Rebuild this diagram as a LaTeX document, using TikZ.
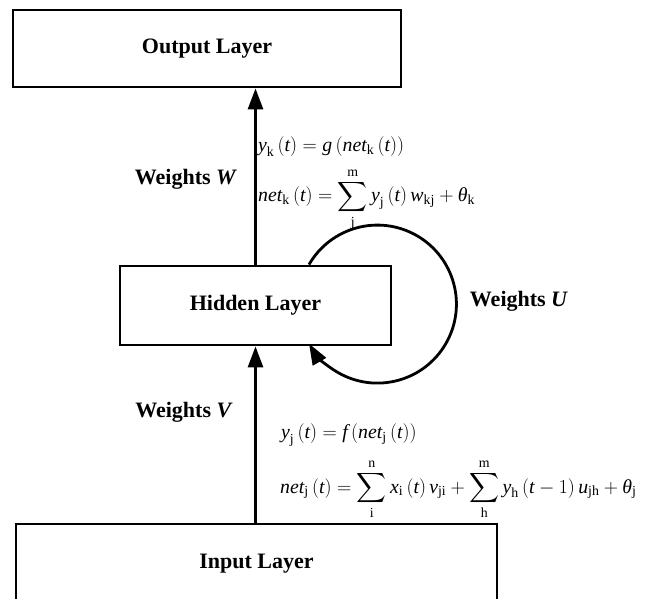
\RequirePackage{fix-cm}
\documentclass[tikz,border=0pt]{standalone}
\usepackage{amsmath}
\usepackage{fontspec}
\setmainfont{Liberation Serif}
\usetikzlibrary{arrows.meta,calc}
\newcommand{\vi}[1]{\textit{#1}}
\newcommand{\sr}[1]{\text{\upshape #1}}
\begin{document}
\begin{tikzpicture}[x=1pt,y=1pt,
  box/.style={draw,line width=2.8pt,rectangle,inner sep=0pt,font=\fontsize{22}{26}\selectfont\bfseries},
  conn/.style={line width=2.8pt,-{Triangle[length=21pt,width=15pt]}},
  lbl/.style={font=\fontsize{22}{26}\selectfont\bfseries,inner sep=0pt},
  eq/.style={font=\fontsize{19.8}{24}\selectfont,anchor=base west,inner sep=0pt}]
\useasboundingbox (0,0) rectangle (646,598);
\clip (0,0) rectangle (646,598);
\node[box,minimum width=388pt,minimum height=77pt] (output) at (207,549.5) {Output Layer};
\node[box,minimum width=271pt,minimum height=79pt] (hidden) at (255.5,292.5) {Hidden Layer};
\node[box,minimum width=481pt,minimum height=80pt] (input) at (256.5,34) {Input Layer};
\draw[conn] (hidden.north) -- (hidden.north |- output.south);
\draw[conn] (input.north -| hidden.south) -- (hidden.south);
\draw[conn] ([xshift=53.5pt]hidden.north) arc[start angle=150,end angle=-150,radius=79];
\node[lbl] (wW) at (186,419) {Weights \textit{W}};
\node[lbl] (wU) at (519,297) {Weights \textit{U}};
\node[lbl] (wV) at (184,186) {Weights \textit{V}};
\node[eq] (eqk1) at (258,446) {$\vi{y}_{\sr{k}}\,(\vi{t}) = \vi{g}\,(\vi{net}_{\sr{k}}\,(\vi{t}))$};
\node[eq] (eqk2) at (258,396) {$\displaystyle\vi{net}_{\sr{k}}\,(\vi{t}) = \sum_{\sr{j}}^{\sr{m}} \vi{y}_{\sr{j}}\,(\vi{t})\,\vi{w}_{\sr{kj}} + \vi{θ}_{\sr{k}}$};
\node[eq] (eqj1) at (281,159) {$\vi{y}_{\sr{j}}\,(\vi{t}) = \vi{f}\,(\vi{net}_{\sr{j}}\,(\vi{t}))$};
\node[eq] (eqj2) at (280,105) {$\displaystyle\vi{net}_{\sr{j}}\,(\vi{t}) = \sum_{\sr{i}}^{\sr{n}} \vi{x}_{\sr{i}}\,(\vi{t})\,\vi{v}_{\sr{ji}} + \sum_{\sr{h}}^{\sr{m}} \vi{y}_{\sr{h}}\,(\vi{t}-1)\,\vi{u}_{\sr{jh}} + \vi{θ}_{\sr{j}}$};
\end{tikzpicture}
\end{document}
